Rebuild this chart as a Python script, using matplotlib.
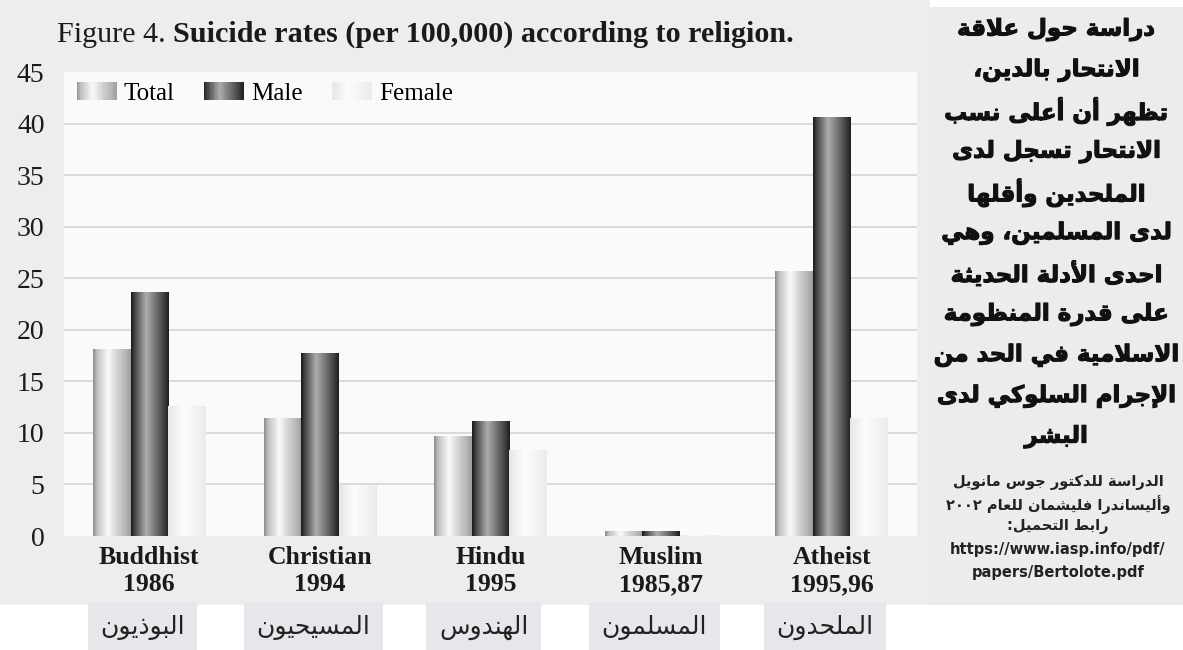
import numpy as np
import matplotlib
matplotlib.use("Agg")
import matplotlib.pyplot as plt
from matplotlib.patches import Rectangle
from matplotlib.legend_handler import HandlerBase
import matplotlib.transforms as mtransforms
import matplotlib.patheffects as pe

# data
religions = ["Buddhist", "Christian", "Hindu", "Muslim", "Atheist"]
years = ["1986", "1994", "1995", "1985,87", "1995,96"]
names_ar = ["البوذيون", "المسيحيون", "الهندوس", "المسلمون", "الملحدون"]
total = [18.1, 11.4, 9.7, 0.5, 25.7]
male = [23.7, 17.7, 11.2, 0.5, 40.6]
female = [12.6, 4.9, 8.3, 0.1, 11.4]
series_names = ["Total", "Male", "Female"]
yticks = [0, 5, 10, 15, 20, 25, 30, 35, 40, 45]

note_lines = [
    "دراسة حول علاقة",
    "الانتحار بالدين،",
    "تظهر أن أعلى نسب",
    "الانتحار تسجل لدى",
    "الملحدين وأقلّها",
    "لدى المسلمين، وهي",
    "احدى الأدلة الحديثة",
    "على قدرة المنظومة",
    "الاسلامية في الحد من",
    "الإجرام السلوكي لدى",
    "البشر",
]
source_lines = [
    "الدراسة للدكتور جوس مانويل",
    "وأليساندرا فليشمان للعام ٢٠٠٢",
    "رابط التحميل:",
    "https://www.iasp.info/pdf/",
    "papers/Bertolote.pdf",
]

# matplotlib does no arabic shaping, so do it by hand (presentation forms B)
_forms = {
    'ء': (0xFE80, 1), 'آ': (0xFE81, 2), 'أ': (0xFE83, 2), 'ؤ': (0xFE85, 2), 'إ': (0xFE87, 2),
    'ئ': (0xFE89, 4), 'ا': (0xFE8D, 2), 'ب': (0xFE8F, 4), 'ة': (0xFE93, 2), 'ت': (0xFE95, 4),
    'ث': (0xFE99, 4), 'ج': (0xFE9D, 4), 'ح': (0xFEA1, 4), 'خ': (0xFEA5, 4), 'د': (0xFEA9, 2),
    'ذ': (0xFEAB, 2), 'ر': (0xFEAD, 2), 'ز': (0xFEAF, 2), 'س': (0xFEB1, 4), 'ش': (0xFEB5, 4),
    'ص': (0xFEB9, 4), 'ض': (0xFEBD, 4), 'ط': (0xFEC1, 4), 'ظ': (0xFEC5, 4), 'ع': (0xFEC9, 4),
    'غ': (0xFECD, 4), 'ف': (0xFED1, 4), 'ق': (0xFED5, 4), 'ك': (0xFED9, 4), 'ل': (0xFEDD, 4),
    'م': (0xFEE1, 4), 'ن': (0xFEE5, 4), 'ه': (0xFEE9, 4), 'و': (0xFEED, 2), 'ى': (0xFEEF, 2),
    'ي': (0xFEF1, 4),
}
_lamalef = {'آ': 0xFEF5, 'أ': 0xFEF7, 'إ': 0xFEF9, 'ا': 0xFEFB}


def shape_arabic(text):
    if not any(c in _forms for c in text):
        return text
    chars = [c for c in text if c != '\u0651']
    out = []
    prev_joins = False
    i = 0
    while i < len(chars):
        c = chars[i]
        if c not in _forms:
            out.append(c)
            prev_joins = False
            i += 1
            continue
        nxt = chars[i + 1] if i + 1 < len(chars) else ''
        if c == 'ل' and nxt in _lamalef:
            out.append(chr(_lamalef[nxt] + (1 if prev_joins else 0)))
            prev_joins = False
            i += 2
            continue
        base, n = _forms[c]
        next_joins = n == 4 and nxt in _forms and nxt != 'ء'
        if n == 1:
            form = 0
        elif prev_joins and next_joins:
            form = 3
        elif prev_joins:
            form = 1
        elif next_joins:
            form = 2
        else:
            form = 0
        out.append(chr(base + form))
        prev_joins = next_joins
        i += 1
    return ''.join(reversed(out))


# cylinder-like shading for each series (position across bar, grey level)
shades = {
    "Total": ([0, 0.1, 0.4, 0.65, 0.85, 1], [0.55, 0.75, 0.98, 0.82, 0.72, 0.62]),
    "Male": ([0, 0.08, 0.4, 0.6, 0.88, 1], [0.1, 0.25, 0.68, 0.5, 0.25, 0.12]),
    "Female": ([0, 0.4, 1], [0.9, 0.99, 0.92]),
}


class GradientHandler(HandlerBase):
    def __init__(self, stops):
        super().__init__()
        self.stops = stops

    def create_artists(self, legend, orig_handle, xdescent, ydescent, width, height, fontsize, trans):
        n = 24
        arts = []
        for k in range(n):
            v = np.interp((k + 0.5) / n, *self.stops)
            arts.append(Rectangle((-xdescent + width * k / n, -ydescent), width / n * 1.1, height,
                                  facecolor=str(v), edgecolor="none", transform=trans))
        return arts


W, H = 1183, 650
fig = plt.figure(figsize=(W / 100, H / 100), dpi=100, facecolor="white")
serif = "Liberation Serif"

# background of the chart picture and the side panel
fig.patches.append(Rectangle((0, 45 / H), 930 / W, 1 - 45 / H, transform=fig.transFigure,
                             facecolor="#ededed", edgecolor="none", zorder=-10))
fig.patches.append(Rectangle((930 / W, 45 / H), 1 - 930 / W, 598 / H, transform=fig.transFigure,
                             facecolor="#ebecee", edgecolor="none", zorder=-10))

ax = fig.add_axes([64 / W, (H - 536) / H, 853 / W, 464 / H])
ax.set_facecolor("#fafafa")

x = np.arange(len(religions))
w = 0.22
for k, (name, vals) in enumerate(zip(series_names, [total, male, female])):
    bars = ax.bar(x + (k - 1) * w, vals, w, color=str(np.mean(shades[name][1])), zorder=2)
    grad = np.interp(np.linspace(0, 1, 64), *shades[name])[None, :]
    for p in bars.patches:
        im = ax.imshow(grad, cmap="gray", vmin=0, vmax=1, aspect="auto", interpolation="bicubic",
                       extent=[p.get_x(), p.get_x() + p.get_width(), 0, p.get_height()], zorder=3)
        im.set_clip_path(p)

ax.set_xlim(-0.5, len(religions) - 0.5)
ax.set_ylim(0, 45)
ax.set_yticks(yticks)
ax.set_yticklabels([str(v) for v in yticks], fontfamily=serif, fontsize=20, color="#1a1a1a")
ax.set_xticks(x)
ax.set_xticklabels([f"{r}\n{y}" for r, y in zip(religions, years)], fontfamily=serif,
                   fontsize=18.5, fontweight="bold", color="#1a1a1a", linespacing=1.25)
ax.tick_params(axis="y", length=0, pad=14)
ax.tick_params(axis="x", length=0, pad=7)
for s in ax.spines.values():
    s.set_visible(False)
for v in yticks[1:-1]:
    ax.axhline(v, color="#d4d4d4", lw=1.2, zorder=1)

handles = [Rectangle((0, 0), 1, 1) for _ in series_names]
ax.legend(handles, series_names, handler_map={h: GradientHandler(shades[n]) for h, n in zip(handles, series_names)},
          ncol=3, frameon=False, loc="upper left", bbox_to_anchor=(0.0, 1.005), borderaxespad=0.1,
          handlelength=1.6, handleheight=0.7, handletextpad=0.3, columnspacing=1.15,
          prop={"family": serif, "size": 18})

# title: "Figure 4." normal, rest bold
t1 = fig.text(57 / W, (H - 48) / H, "Figure 4. ", fontfamily=serif, fontsize=21.7, va="bottom", color="#1a1a1a")
ax.annotate("Suicide rates (per 100,000) according to religion.", xy=(1, 0), xycoords=t1,
            va="bottom", ha="left", fontfamily=serif, fontsize=21.7, fontweight="bold", color="#1a1a1a")

# arabic names under the groups
tr = mtransforms.blended_transform_factory(ax.transData, fig.transFigure)
for xi, nm in zip(x, names_ar):
    ax.text(xi - 0.04, (H - 627) / H, shape_arabic(nm), transform=tr, ha="center", va="center",
            fontfamily="DejaVu Sans", fontsize=18, color="#222222",
            bbox=dict(boxstyle="square,pad=0.5", facecolor="#e6e7ea", edgecolor="none"))

# side panel text
heavy = [pe.withStroke(linewidth=0.8, foreground="#111111")]
for i, line in enumerate(note_lines):
    fig.text(1056 / W, (H - 30 - i * 40.7) / H, shape_arabic(line), ha="center", va="center",
             fontfamily="DejaVu Sans", fontweight="bold", fontsize=16.5, color="#111111",
             path_effects=heavy)
for i, line in enumerate(source_lines):
    fig.text(1058 / W, (H - 482 - i * 22.5) / H, shape_arabic(line), ha="center", va="center",
             fontfamily="DejaVu Sans", fontweight="bold", fontsize=10.5, color="#222222")

fig.savefig("out.png", dpi=100, facecolor="white")
